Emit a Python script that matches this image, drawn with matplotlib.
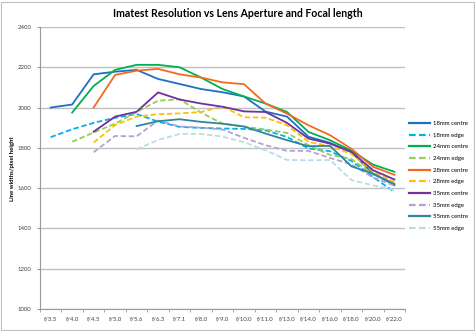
import numpy as np
import matplotlib.pyplot as plt
from matplotlib.patches import Rectangle

plt.rcParams["font.family"] = ["Lato", "DejaVu Sans"]

nan = np.nan
apertures = ["f/3.5", "f/4.0", "f/4.5", "f/5.0", "f/5.6", "f/6.3", "f/7.1", "f/8.0", "f/9.0",
             "f/10.0", "f/11.0", "f/13.0", "f/14.0", "f/16.0", "f/18.0", "f/20.0", "f/22.0"]

mm18_centre = [2000, 2015, 2165, 2178, 2187, 2142, 2117, 2092, 2076, 2055, 1980, 1955, 1855, 1825, 1778, 1672, 1615]
mm18_edge = [1853, 1892, 1924, 1949, 1968, 1930, 1904, 1899, 1896, 1894, 1887, 1854, 1797, 1783, 1735, 1656, 1580]
mm24_centre = [nan, 1975, 2107, 2187, 2212, 2212, 2200, 2149, 2092, 2055, 2020, 1978, 1879, 1838, 1786, 1717, 1681]
mm24_edge = [nan, 1830, 1876, 1920, 1978, 2034, 2041, 1975, 1920, 1905, 1891, 1874, 1813, 1765, 1745, 1668, 1623]
mm28_centre = [nan, nan, 2000, 2162, 2183, 2192, 2165, 2149, 2125, 2116, 2020, 1970, 1912, 1863, 1795, 1706, 1666]
mm28_edge = [nan, nan, 1826, 1913, 1955, 1967, 1971, 1978, 2006, 1952, 1950, 1912, 1830, 1808, 1770, 1681, 1631]
mm35_centre = [nan, nan, 1880, 1955, 1979, 2075, 2040, 2020, 2004, 1981, 1978, 1924, 1846, 1821, 1780, 1689, 1643]
mm35_edge = [nan, nan, 1778, 1859, 1857, 1936, 1906, 1900, 1891, 1850, 1813, 1785, 1785, 1750, 1718, 1653, 1612]
mm55_centre = [nan, nan, nan, nan, 1908, 1932, 1942, 1929, 1920, 1906, 1871, 1838, 1808, 1810, 1708, 1672, 1620]
mm55_edge = [nan, nan, nan, nan, 1793, 1839, 1869, 1869, 1856, 1828, 1788, 1740, 1738, 1740, 1640, 1614, 1590]

series = [
    ("18mm centre", mm18_centre, "#1f6fc5", "-"),
    ("18mm edge", mm18_edge, "#00b0f0", "--"),
    ("24mm centre", mm24_centre, "#00b050", "-"),
    ("24mm edge", mm24_edge, "#92d050", "--"),
    ("28mm centre", mm28_centre, "#f26b1d", "-"),
    ("28mm edge", mm28_edge, "#ffc000", "--"),
    ("35mm centre", mm35_centre, "#7030a0", "-"),
    ("35mm edge", mm35_edge, "#b3a2d4", "--"),
    ("55mm centre", mm55_centre, "#31849b", "-"),
    ("55mm edge", mm55_edge, "#b7dee8", "--"),
]

fig = plt.figure(figsize=(4.75, 3.31), dpi=100)
fig.patches.append(Rectangle((0.002, 0.003), 0.995, 0.992, transform=fig.transFigure,
                             fill=False, edgecolor="#bfbfbf", lw=0.8))
ax = fig.add_axes([0.084, 0.0665, 0.769, 0.852])

x = np.arange(len(apertures))
for name, vals, col, ls in series:
    ax.plot(x, vals, ls, color=col, lw=1.3, label=name,
            dashes=(3, 1.5) if ls == "--" else (None, None))

ax.set_xlim(-0.5, len(apertures) - 0.5)
ax.set_ylim(1000, 2400)
ax.set_yticks(range(1000, 2401, 200))
ax.set_xticks(x)
ax.set_xticklabels(apertures)
ax.set_xticks(np.arange(-0.5, len(apertures)), minor=True)
ax.tick_params(axis="x", which="major", length=0, labelsize=4.3, pad=5.5, colors="#404040")
ax.tick_params(axis="x", which="minor", length=2.5, color="#999999")
ax.tick_params(axis="y", length=2.5, color="#999999", labelsize=4.3, colors="#404040", pad=3.5)
ax.grid(axis="y", color="#c0c0c0", lw=1)
ax.set_axisbelow(True)
for s in ["top", "right"]:
    ax.spines[s].set_visible(False)
for s in ["left", "bottom"]:
    ax.spines[s].set_color("#999999")
    ax.spines[s].set_linewidth(0.8)

fig.text(0.027, 0.49, "Line widths/pixel height", rotation=90, ha="center", va="center",
         fontsize=4.3, fontweight="bold")
fig.text(0.5, 0.958, "Imatest Resolution vs Lens Aperture and Focal length",
         ha="center", va="center", fontsize=7.6, fontweight="bold")

leg = ax.legend(loc="upper left", bbox_to_anchor=(1.005, 0.675), frameon=False,
                fontsize=4.3, handlelength=3.4, labelspacing=1.08, handletextpad=0.6,
                borderaxespad=0)
for line in leg.get_lines():
    line.set_linewidth(1.6)

fig.savefig("out.png", dpi=100)
